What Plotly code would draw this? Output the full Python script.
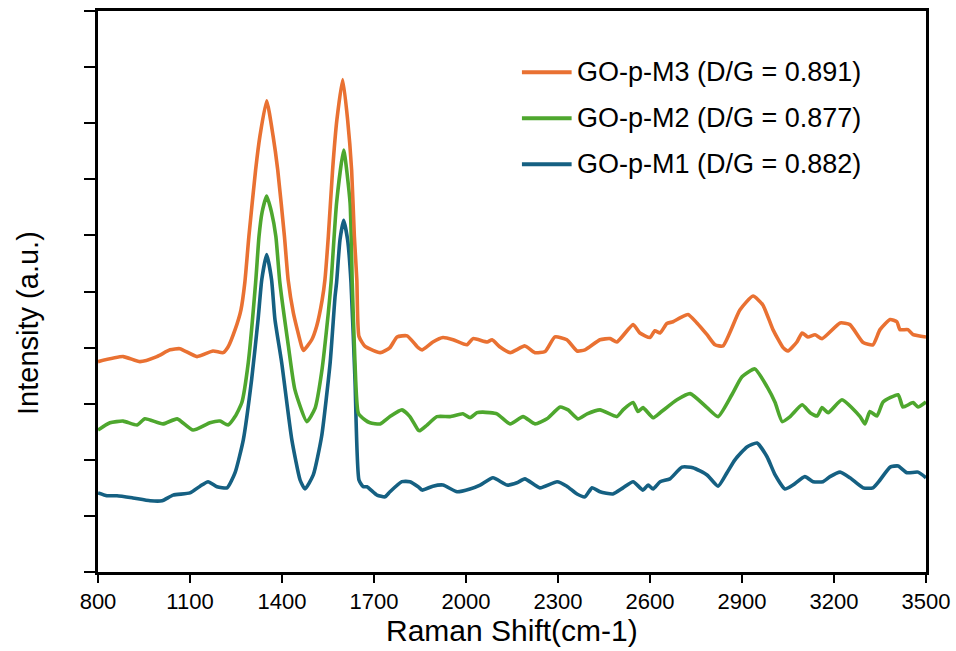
import plotly.graph_objects as go

# ---- data (Raman shift in cm-1, intensity in arbitrary units) ----
x_m3 = [800, 882, 937, 992, 1035, 1067, 1123, 1175, 1208, 1224, 1247, 1266, 1279, 1292, 1314, 1328, 1350,
        1371, 1386, 1408, 1420, 1437, 1464, 1470, 1497, 1513, 1531, 1540, 1551, 1565, 1579, 1598, 1614,
        1627, 1636, 1644, 1651, 1671, 1720, 1752, 1775, 1808, 1844, 1857, 1892, 1925, 1958, 2003, 2023,
        2069, 2085, 2111, 2144, 2192, 2225, 2258, 2290, 2329, 2362, 2388, 2437, 2470, 2492, 2545, 2567,
        2600, 2616, 2633, 2655, 2675, 2698, 2724, 2753, 2786, 2812, 2838, 2893, 2936, 2968, 3001, 3034,
        3050, 3079, 3096, 3115, 3138, 3161, 3220, 3252, 3295, 3327, 3350, 3383, 3405, 3415, 3441, 3458, 3500]
y_m3 = [3.75, 3.84, 3.75, 3.84, 3.96, 3.98, 3.84, 3.94, 3.91, 4.01, 4.32, 4.67, 5.17, 5.98, 7.17, 7.77, 8.40,
        7.77, 7.17, 5.98, 5.21, 4.62, 4.02, 3.95, 4.14, 4.38, 4.85, 5.21, 5.98, 7.17, 8.06, 8.78, 8.06,
        7.17, 5.98, 5.21, 4.20, 4.02, 3.91, 4.00, 4.19, 4.21, 4.00, 3.96, 4.10, 4.18, 4.14, 4.05, 4.16,
        4.10, 4.14, 4.01, 3.91, 4.03, 3.91, 3.93, 4.19, 4.14, 3.94, 3.96, 4.14, 4.16, 4.10, 4.41, 4.26,
        4.18, 4.30, 4.26, 4.43, 4.46, 4.53, 4.59, 4.44, 4.23, 4.05, 4.03, 4.67, 4.92, 4.76, 4.32, 4.00,
        3.94, 4.10, 4.26, 4.19, 4.23, 4.16, 4.44, 4.41, 4.09, 4.05, 4.32, 4.50, 4.46, 4.32, 4.32, 4.23, 4.19]

x_m2 = [800, 839, 882, 927, 953, 1012, 1058, 1110, 1165, 1198, 1224, 1247, 1269, 1290, 1314, 1325, 1335,
        1350, 1366, 1380, 1393, 1421, 1442, 1481, 1508, 1529, 1551, 1560, 1578, 1601, 1622, 1629, 1638,
        1649, 1671, 1687, 1720, 1752, 1791, 1817, 1844, 1850, 1873, 1905, 1948, 1990, 2013, 2036, 2055,
        2101, 2144, 2186, 2225, 2264, 2307, 2333, 2365, 2395, 2437, 2492, 2512, 2545, 2561, 2577, 2610,
        2633, 2688, 2731, 2786, 2822, 2867, 2900, 2942, 2982, 3008, 3031, 3057, 3096, 3122, 3145, 3161,
        3181, 3226, 3285, 3301, 3317, 3340, 3360, 3409, 3425, 3458, 3474, 3500]
y_m2 = [2.53, 2.66, 2.69, 2.62, 2.73, 2.64, 2.73, 2.53, 2.66, 2.69, 2.62, 2.77, 3.02, 3.73, 5.16, 5.98, 6.41,
        6.70, 6.41, 5.98, 5.16, 4.02, 3.25, 2.68, 2.92, 3.55, 4.62, 5.16, 6.58, 7.52, 6.58, 5.16, 3.73,
        2.83, 2.71, 2.66, 2.64, 2.77, 2.89, 2.77, 2.53, 2.52, 2.62, 2.77, 2.77, 2.82, 2.75, 2.84, 2.85,
        2.82, 2.64, 2.77, 2.64, 2.73, 2.94, 2.89, 2.73, 2.82, 2.89, 2.77, 2.89, 3.02, 2.86, 2.93, 2.75,
        2.84, 3.07, 3.18, 2.93, 2.77, 3.16, 3.48, 3.62, 3.30, 3.02, 2.68, 2.77, 2.98, 2.84, 2.78, 2.93,
        2.84, 3.07, 2.77, 2.64, 2.86, 2.78, 3.03, 3.16, 2.94, 3.02, 2.94, 3.03]

x_m1 = [800, 829, 862, 914, 970, 1009, 1045, 1100, 1133, 1159, 1188, 1221, 1247, 1274, 1301, 1322, 1334,
        1350, 1366, 1377, 1399, 1432, 1459, 1475, 1502, 1529, 1557, 1573, 1578, 1589, 1601, 1614, 1625,
        1638, 1651, 1665, 1677, 1710, 1736, 1752, 1791, 1817, 1844, 1857, 1892, 1925, 1971, 2013, 2046,
        2088, 2134, 2166, 2192, 2241, 2297, 2329, 2362, 2388, 2411, 2437, 2479, 2512, 2545, 2577, 2594,
        2610, 2633, 2665, 2704, 2740, 2786, 2822, 2851, 2877, 2916, 2949, 2982, 3008, 3040, 3066, 3105,
        3132, 3164, 3187, 3220, 3252, 3295, 3327, 3350, 3383, 3409, 3438, 3474, 3500]
y_m1 = [1.41, 1.36, 1.36, 1.32, 1.27, 1.27, 1.37, 1.41, 1.53, 1.61, 1.52, 1.50, 1.77, 2.36, 3.43, 4.50, 5.21,
        5.66, 5.21, 4.50, 3.73, 2.36, 1.64, 1.48, 1.73, 2.41, 3.73, 4.91, 5.16, 5.92, 6.27, 5.92, 5.16,
        3.43, 1.64, 1.52, 1.52, 1.37, 1.34, 1.43, 1.61, 1.61, 1.52, 1.46, 1.53, 1.55, 1.43, 1.48, 1.55,
        1.68, 1.55, 1.59, 1.66, 1.50, 1.61, 1.53, 1.39, 1.34, 1.50, 1.43, 1.39, 1.50, 1.61, 1.46, 1.55,
        1.48, 1.61, 1.66, 1.87, 1.86, 1.73, 1.53, 1.77, 2.00, 2.23, 2.30, 2.05, 1.73, 1.48, 1.55, 1.70,
        1.61, 1.61, 1.70, 1.78, 1.68, 1.50, 1.50, 1.64, 1.87, 1.89, 1.77, 1.78, 1.68]

names = ["GO-p-M3 (D/G = 0.891)", "GO-p-M2 (D/G = 0.877)", "GO-p-M1 (D/G = 0.882)"]
colors = ["#E97132", "#4EA72E", "#156082"]
x_ticks = [800, 1100, 1400, 1700, 2000, 2300, 2600, 2900, 3200, 3500]

FONT = "Arial, 'Liberation Sans', sans-serif"

fig = go.Figure()
series = [(x_m1, y_m1, names[2], colors[2]),
          (x_m2, y_m2, names[1], colors[1]),
          (x_m3, y_m3, names[0], colors[0])]
for xs, ys, nm, c in series:
    fig.add_trace(go.Scatter(x=xs, y=ys, mode="lines", name=nm, showlegend=False,
                             line=dict(color=c, width=3.6, shape="spline", smoothing=0.5)))

# custom legend (line sample + label)
leg_y = [0.891, 0.809, 0.727]
for i, (nm, c) in enumerate(zip(names, colors)):
    fig.add_shape(type="line", xref="paper", yref="paper", x0=0.512, x1=0.572,
                  y0=leg_y[i], y1=leg_y[i], line=dict(color=c, width=4))
    fig.add_annotation(xref="paper", yref="paper", x=0.576, y=leg_y[i], text=nm,
                       showarrow=False, xanchor="left", yanchor="middle",
                       font=dict(family=FONT, size=27, color="black"))

# axis titles
fig.add_annotation(xref="paper", yref="paper", x=0.5, y=-0.105, text="Raman Shift(cm-1)",
                   showarrow=False, xanchor="center", yanchor="middle",
                   font=dict(family=FONT, size=30, color="black"))
fig.add_annotation(xref="paper", yref="paper", x=-0.0845, y=0.444, text="Intensity (a.u.)",
                   showarrow=False, xanchor="center", yanchor="middle", textangle=-90,
                   font=dict(family=FONT, size=29, color="black"))

fig.update_layout(
    width=956, height=651,
    margin=dict(l=98, r=30, t=11, b=79, autoexpand=False),
    paper_bgcolor="white", plot_bgcolor="white",
    font=dict(family=FONT, color="black"),
    showlegend=False,
)
fig.update_xaxes(range=[800, 3500], tickvals=x_ticks, ticktext=[str(v) for v in x_ticks],
                 ticks="outside", ticklen=8, tickwidth=1.5, tickcolor="black", automargin=False,
                 showline=True, linecolor="black", linewidth=2.5, mirror=True,
                 showgrid=False, zeroline=False, tickfont=dict(family=FONT, size=22, color="black"))
fig.update_yaxes(range=[0, 10], dtick=1, tick0=0, showticklabels=False, automargin=False,
                 ticks="outside", ticklen=11, tickwidth=1.5, tickcolor="black",
                 showline=True, linecolor="black", linewidth=2.5, mirror=True,
                 showgrid=False, zeroline=False)

fig.write_html("out.html")
